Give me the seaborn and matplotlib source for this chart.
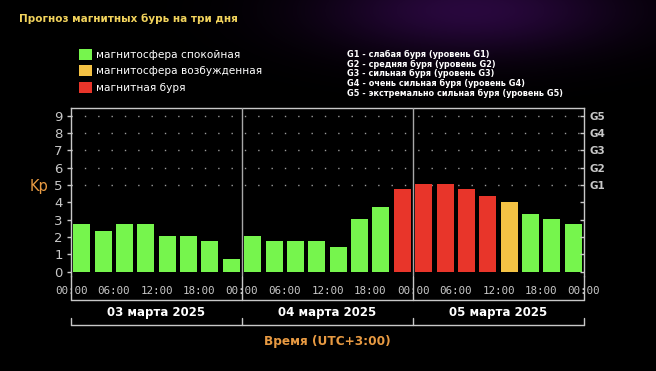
import numpy as np
import pandas as pd
import seaborn as sns
import matplotlib.pyplot as plt
from matplotlib.patches import Patch
from matplotlib.transforms import blended_transform_factory

# forecast data, 3-hour slots
kp_values = [2.75, 2.35, 2.75, 2.75, 2.05, 2.05, 1.75, 0.75,
             2.05, 1.75, 1.75, 1.75, 1.4, 3.05, 3.75, 4.75,
             5.05, 5.05, 4.75, 4.35, 4.05, 3.35, 3.05, 2.75]
levels = ['calm'] * 15 + ['storm'] * 5 + ['active'] + ['calm'] * 3
time_labels = ['00:00', '06:00', '12:00', '18:00'] * 3 + ['00:00']
dates = ['03 марта 2025', '04 марта 2025', '05 марта 2025']
g_labels = ['G1', 'G2', 'G3', 'G4', 'G5']
legend_labels = ['магнитосфера спокойная', 'магнитосфера возбужденная', 'магнитная буря']
g_notes = ['G1 - слабая буря (уровень G1)',
           'G2 - средняя буря (уровень G2)',
           'G3 - сильная буря (уровень G3)',
           'G4 - очень сильная буря (уровень G4)',
           'G5 - экстремально сильная буря (уровень G5)']

colors = {'calm': '#76f54d', 'active': '#f4c244', 'storm': '#e8352a'}
grey = '#c8c8c8'
orange = '#e89a42'

df = pd.DataFrame({'slot': range(len(kp_values)), 'kp': kp_values, 'level': levels})

sns.set_style('dark')
plt.rcParams['font.family'] = ['DejaVu Sans']

fig = plt.figure(figsize=(6.56, 3.71), dpi=100, facecolor='black')

# faint purple haze behind everything
bg = fig.add_axes([0, 0, 1, 1], zorder=-10)
yy, xx = np.mgrid[0:371, 0:656]
glow = np.exp(-(((xx - 470) / 150.0) ** 2 + ((yy - 10) / 45.0) ** 2))
img = np.zeros((371, 656, 3))
img[..., 0] = 0.16 * glow
img[..., 1] = 0.03 * glow
img[..., 2] = 0.24 * glow
bg.imshow(img, aspect='auto', extent=(0, 1, 0, 1), origin='upper')
bg.axis('off')

ax = fig.add_axes([71 / 656, 1 - 276 / 371, 513 / 656, 168 / 371])
ax.set_facecolor('black')

sns.barplot(data=df, x='slot', y='kp', hue='level', palette=colors, dodge=False,
            legend=False, width=0.8, saturation=1, linewidth=0, ax=ax)

ax.set_xlim(-0.5, 23.5)
ax.set_ylim(-0.25, 9.45)
ax.set_xlabel('')
ax.set_ylabel('')

# dotted grid for storm levels
for y in range(5, 10):
    ax.axhline(y, color='#9a9a9a', lw=1, ls=(0, (1, 8.6)), zorder=0)
for x in [7.5, 15.5]:
    ax.axvline(x, color='#a8a8a8', lw=1, zorder=3)

for side in ['top', 'left', 'right']:
    ax.spines[side].set_color(grey)
    ax.spines[side].set_linewidth(1)
ax.spines['bottom'].set_visible(False)

ax.set_yticks(range(10))
ax.set_yticklabels([str(i) for i in range(10)], color=grey, fontsize=9.5)
ax.tick_params(axis='y', colors=grey, length=3, width=1, pad=3)

boundaries = np.arange(-0.5, 24, 1)
ax.set_xticks(boundaries)
ax.set_xticklabels([time_labels[i // 2] if i % 2 == 0 else '' for i in range(len(boundaries))],
                   fontfamily='DejaVu Sans Mono', fontsize=7.8, color=grey)
ax.tick_params(axis='x', colors=grey, length=3, width=1, pad=4)

ax2 = ax.twinx()
ax2.set_ylim(ax.get_ylim())
ax2.set_yticks(range(10))
ax2.set_yticklabels([''] * 5 + g_labels, fontsize=7.5, fontweight='bold', color=grey)
ax2.tick_params(axis='y', colors=grey, direction='in', length=3, width=1, pad=4)
for s in ax2.spines.values():
    s.set_visible(False)

# day brackets under the axis
tr = blended_transform_factory(ax.transData, ax.transAxes)
day_edges = [-0.5, 7.5, 15.5, 23.5]
for x in day_edges:
    ax.plot([x, x], [0, -0.143], color=grey, lw=1, transform=tr, clip_on=False)
    ax.plot([x, x], [-0.25, -0.292], color=grey, lw=1, transform=tr, clip_on=False)
ax.plot([-0.5, 23.5], [-0.143, -0.143], color=grey, lw=1, transform=tr, clip_on=False)
ax.plot([-0.5, 23.5], [-0.292, -0.292], color=grey, lw=1, transform=tr, clip_on=False)
for i, d in enumerate(dates):
    ax.text((day_edges[i] + day_edges[i + 1]) / 2, -0.216, d, transform=tr,
            ha='center', va='center', color='white', fontsize=8.5, fontweight='bold')
ax.text(11.5, -0.387, 'Время (UTC+3:00)', transform=tr, ha='center', va='center',
        color=orange, fontsize=8.7, fontweight='bold')

fig.text(39 / 656, 1 - 186 / 371, 'Kp', color=orange, fontsize=10.5, ha='center', va='center')

fig.text(19 / 656, 1 - 19 / 371, 'Прогноз магнитных бурь на три дня', color='#f2d35c',
         fontsize=7.5, fontweight='bold', ha='left', va='center')

handles = [Patch(facecolor=colors[k], edgecolor='none') for k in ['calm', 'active', 'storm']]
fig.legend(handles, legend_labels, loc='upper left', bbox_to_anchor=(79 / 656, 1 - 49 / 371),
           frameon=False, fontsize=7.6, labelcolor='white', handlelength=1.23, handleheight=1.23,
           handletextpad=0.38, labelspacing=0.5, borderpad=0, borderaxespad=0)

for i, note in enumerate(g_notes):
    fig.text(347 / 656, 1 - (54.3 + i * 9.7) / 371, note, color='white', fontsize=5.9,
             fontweight='bold', ha='left', va='center')

fig.savefig('out.png', dpi=100, facecolor='black')
